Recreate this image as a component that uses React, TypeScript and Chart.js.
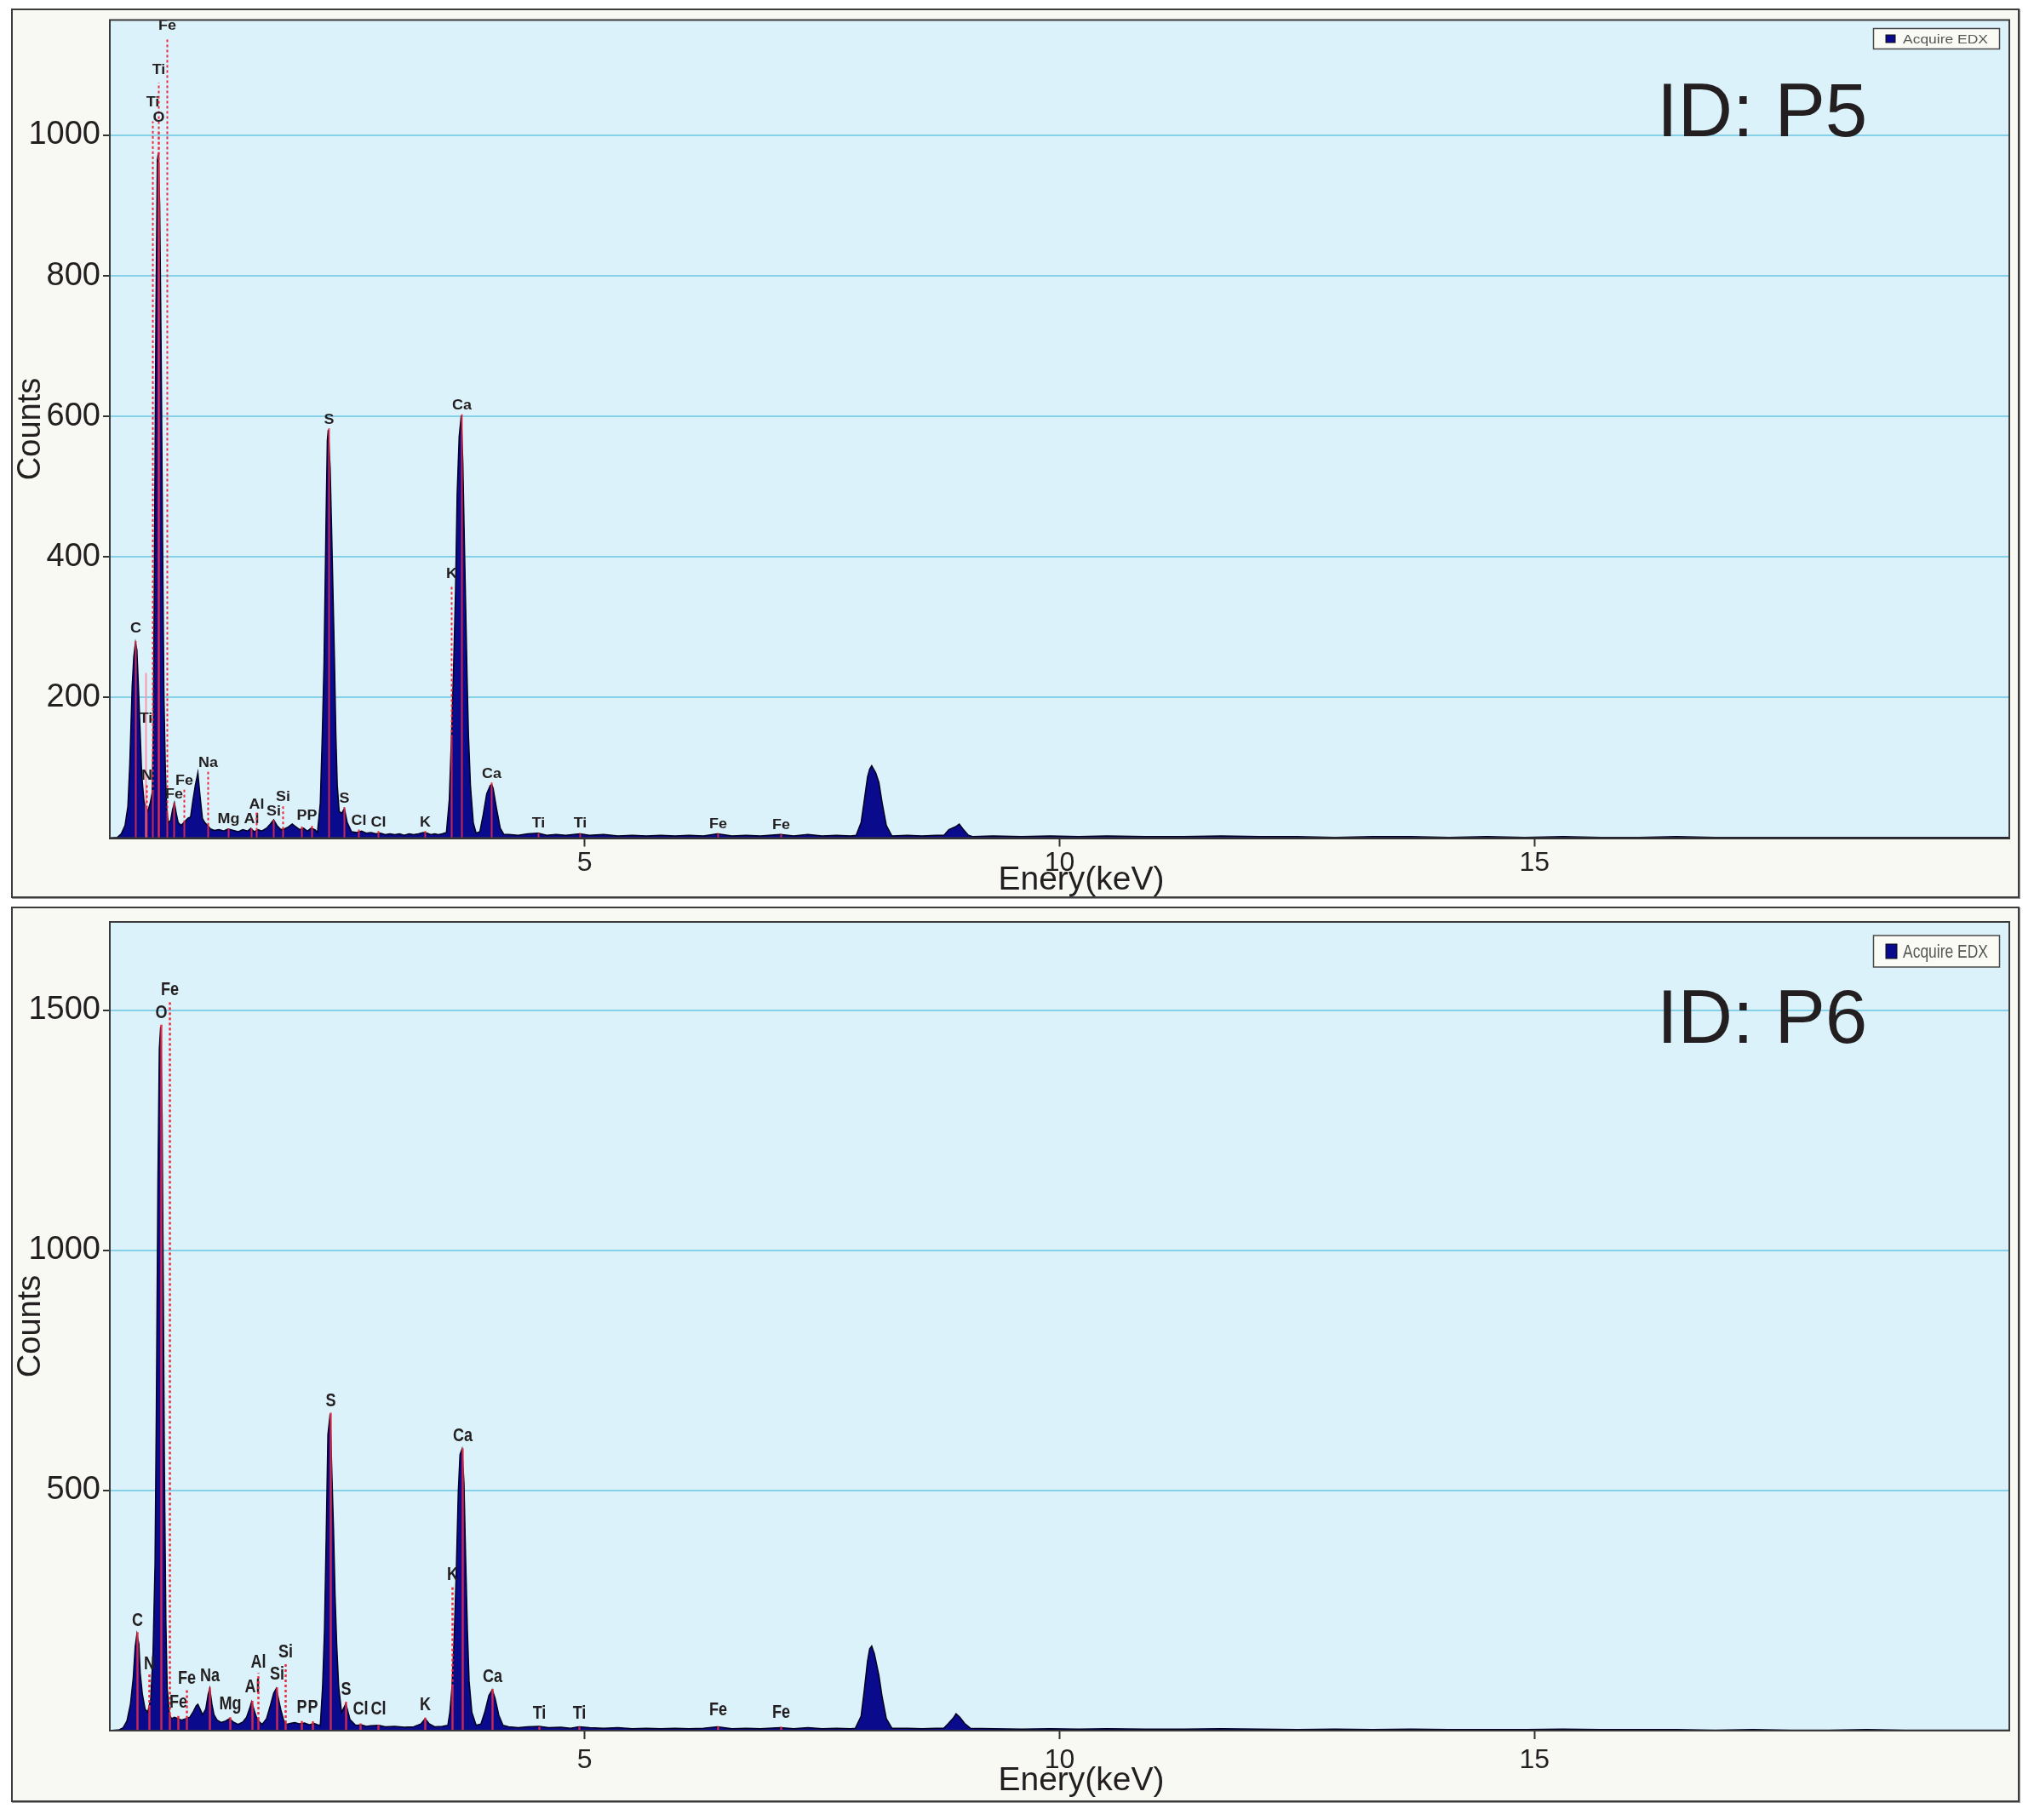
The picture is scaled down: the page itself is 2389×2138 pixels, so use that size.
import React, { useEffect, useRef } from 'react';
import { Chart, registerables } from 'chart.js';

Chart.register(...registerables);

// ---------------- DATA ----------------
const energyP5 = [
  0.0, 0.08, 0.12, 0.16, 0.19, 0.21, 0.235, 0.252, 0.27, 0.285, 0.3, 0.317, 0.336, 0.36, 0.38, 0.4, 0.425, 0.447, 0.458, 0.47,
  0.485, 0.5, 0.512, 0.525, 0.54, 0.555, 0.57, 0.585, 0.6, 0.615, 0.64, 0.66, 0.68, 0.7, 0.72, 0.75, 0.78, 0.82, 0.85, 0.875,
  0.9, 0.927, 0.95, 0.975, 1.0, 1.03, 1.06, 1.1, 1.15, 1.2, 1.245, 1.3, 1.35, 1.4, 1.45, 1.485, 1.52, 1.56, 1.6, 1.65,
  1.69, 1.725, 1.76, 1.8, 1.84, 1.88, 1.92, 1.96, 2.0, 2.04, 2.08, 2.12, 2.16, 2.186, 2.216, 2.237, 2.255, 2.267, 2.278, 2.29,
  2.3, 2.32, 2.335, 2.35, 2.365, 2.38, 2.395, 2.415, 2.44, 2.47, 2.5, 2.545, 2.6, 2.65, 2.7, 2.75, 2.8, 2.85, 2.9, 2.95,
  3.0, 3.05, 3.1, 3.15, 3.2, 3.25, 3.3, 3.34, 3.38, 3.42, 3.46, 3.5, 3.544, 3.574, 3.597, 3.618, 3.64, 3.657, 3.678, 3.7,
  3.717, 3.732, 3.747, 3.762, 3.776, 3.797, 3.827, 3.857, 3.896, 3.932, 3.968, 4.006, 4.021, 4.036, 4.072, 4.111, 4.15, 4.2, 4.3, 4.4,
  4.51, 4.6, 4.7, 4.8, 4.95, 5.05, 5.2, 5.35, 5.5, 5.65, 5.8, 5.95, 6.1, 6.25, 6.4, 6.55, 6.7, 6.85, 7.06, 7.2,
  7.35, 7.5, 7.65, 7.8, 7.858, 7.91, 7.944, 7.978, 8.0, 8.022, 8.064, 8.098, 8.132, 8.176, 8.235, 8.4, 8.55, 8.7, 8.783, 8.834,
  8.903, 8.944, 8.988, 9.04, 9.09, 9.3, 9.6, 9.9, 10.2, 10.5, 10.9, 11.3, 11.7, 12.1, 12.5, 12.9, 13.3, 13.7, 14.1, 14.5,
  14.9, 15.3, 15.7, 16.1, 16.5, 16.9, 17.3, 17.7, 18.1, 18.5, 18.9, 19.3, 19.7, 20.0,
];
const countsP5 = [
  0, 1, 6, 18, 45, 105, 215, 258, 278, 268, 220, 160, 90, 52, 44, 38, 50, 65, 160, 400,
  740, 965, 975, 900, 700, 430, 200, 95, 40, 22, 25, 40, 50, 35, 22, 18, 22, 28, 30, 54,
  75, 93, 60, 28, 22, 18, 13, 11, 12, 10, 13, 11, 9, 12, 10, 14, 9, 12, 10, 14,
  20, 26, 18, 12, 13, 16, 20, 16, 12, 14, 10, 14, 12, 8, 50, 147, 248, 361, 466, 566,
  581, 526, 440, 349, 256, 147, 75, 38, 35, 42, 22, 9, 8, 10, 7, 8, 6, 7, 5, 6,
  5, 6, 4, 6, 5, 6, 8, 7, 5, 6, 5, 6, 8, 54, 143, 236, 353, 490, 571, 601,
  534, 430, 329, 228, 147, 75, 22, 7, 9, 34, 63, 75, 76, 71, 42, 14, 5, 5, 4, 6,
  7, 4, 5, 4, 6, 4, 5, 3, 4, 3, 4, 3, 4, 3, 6, 3, 4, 3, 5, 3,
  5, 3, 4, 3, 4, 22, 54, 87, 98, 103, 93, 79, 50, 18, 3, 4, 3, 4, 4, 12,
  16, 20, 12, 4, 2, 3, 2, 3, 2, 3, 2, 2, 3, 2, 2, 1, 2, 2, 1, 2,
  1, 2, 1, 1, 2, 1, 1, 1, 1, 1, 1, 1, 1, 1,
];

const energyP6 = [
  0.0, 0.1, 0.14, 0.18, 0.217, 0.246, 0.267, 0.285, 0.306, 0.32, 0.342, 0.372, 0.4, 0.431, 0.455, 0.476, 0.49, 0.506, 0.521, 0.535,
  0.55, 0.562, 0.575, 0.59, 0.604, 0.628, 0.65, 0.68, 0.72, 0.754, 0.8, 0.843, 0.88, 0.91, 0.927, 0.95, 0.977, 1.01, 1.035, 1.052,
  1.075, 1.097, 1.13, 1.171, 1.22, 1.26, 1.3, 1.35, 1.4, 1.44, 1.47, 1.493, 1.52, 1.544, 1.575, 1.604, 1.65, 1.694, 1.725, 1.753,
  1.78, 1.8, 1.83, 1.858, 1.9, 1.947, 2.0, 2.05, 2.1, 2.15, 2.19, 2.216, 2.24, 2.26, 2.278, 2.296, 2.32, 2.341, 2.356, 2.371,
  2.389, 2.41, 2.44, 2.485, 2.529, 2.589, 2.65, 2.7, 2.75, 2.83, 2.9, 3.0, 3.1, 3.2, 3.275, 3.32, 3.365, 3.42, 3.5, 3.559,
  3.58, 3.603, 3.627, 3.648, 3.669, 3.687, 3.708, 3.729, 3.747, 3.765, 3.783, 3.812, 3.857, 3.908, 3.947, 3.991, 4.027, 4.057, 4.096, 4.14,
  4.2, 4.3, 4.4, 4.52, 4.62, 4.75, 4.85, 4.94, 5.05, 5.2, 5.35, 5.5, 5.65, 5.8, 5.95, 6.1, 6.25, 6.4, 6.55, 6.7,
  6.85, 7.06, 7.2, 7.35, 7.5, 7.65, 7.8, 7.85, 7.91, 7.944, 7.978, 8.0, 8.022, 8.05, 8.098, 8.132, 8.176, 8.235, 8.4, 8.55,
  8.7, 8.78, 8.83, 8.88, 8.91, 8.95, 9.0, 9.06, 9.3, 9.6, 9.9, 10.2, 10.5, 10.9, 11.3, 11.7, 12.1, 12.5, 12.9, 13.3,
  13.7, 14.1, 14.5, 14.9, 15.3, 15.7, 16.1, 16.5, 16.9, 17.3, 17.7, 18.1, 18.5, 18.9, 19.3, 19.7, 20.0,
];
const countsP6 = [
  0, 2, 6, 20, 55, 109, 175, 201, 180, 120, 77, 44, 39, 66, 164, 348, 673, 1139, 1420, 1466,
  1280, 949, 543, 228, 88, 33, 25, 28, 25, 22, 25, 28, 40, 52, 55, 45, 33, 45, 75, 88,
  55, 33, 22, 17, 20, 25, 18, 13, 18, 28, 45, 60, 42, 28, 18, 13, 25, 55, 78, 88,
  62, 44, 22, 13, 15, 17, 14, 16, 12, 15, 12, 11, 91, 209, 403, 616, 660, 516, 415, 286,
  179, 91, 38, 56, 23, 11, 12, 9, 10, 11, 8, 9, 7, 8, 14, 25, 14, 8, 9, 11,
  38, 91, 203, 333, 498, 575, 586, 516, 356, 209, 103, 38, 11, 14, 38, 73, 85, 67, 32, 11,
  8, 6, 8, 9, 6, 7, 5, 8, 6, 5, 6, 4, 5, 4, 5, 4, 5, 8, 4, 5,
  4, 6, 4, 6, 4, 5, 4, 5, 30, 85, 145, 170, 176, 160, 115, 70, 25, 5, 5, 4,
  5, 5, 15, 26, 35, 28, 15, 5, 4, 3, 4, 3, 4, 3, 3, 4, 3, 2, 3, 2,
  3, 2, 2, 2, 3, 2, 2, 2, 1, 2, 1, 1, 2, 1, 1, 1, 1,
];

const xTicks = [5, 10, 15];
const yTicksP5 = [200, 400, 600, 800, 1000];
const yTicksP6 = [500, 1000, 1500];

// [energy keV, element, line top (counts), label centre (counts), style]
type Marker = [number, string, number, number, string];
const markersP5: Marker[] = [
  [0.27, 'C', 280, 298, 'd'],
  [0.378, 'Ti', 235, 170, 's'],
  [0.385, 'N', 76, 88, 'd'],
  [0.447, 'Ti', 1020, 1047, 'd'],
  [0.509, 'Ti', 1075, 1092, 'd'],
  [0.515, 'O', 1008, 1025, 'd'],
  [0.604, 'Fe', 1137, 1155, 'd'],
  [0.673, 'Fe', 50, 62, 'd'],
  [0.777, 'Fe', 69, 81, 'd'],
  [1.03, 'Na', 95, 106, 'd'],
  [1.245, 'Mg', 14, 26, 'd'],
  [1.485, 'Al', 14, 26, 'd'],
  [1.545, 'Al', 37, 47, 'd'],
  [1.725, 'Si', 26, 37, 'd'],
  [1.817, 'Si', 48, 58, 'd'],
  [2.016, 'P', 18, 31, 'd'],
  [2.127, 'P', 18, 31, 'd'],
  [2.3, 'S', 583, 595, 'd'],
  [2.468, 'S', 44, 55, 'd'],
  [2.622, 'Cl', 12, 24, 'd'],
  [2.82, 'Cl', 10, 22, 'd'],
  [3.317, 'K', 10, 22, 'd'],
  [3.597, 'K', 361, 375, 'd'],
  [3.7, 'Ca', 603, 615, 'd'],
  [4.02, 'Ca', 79, 91, 'd'],
  [4.51, 'Ti', 7, 20, 'd'],
  [4.946, 'Ti', 7, 20, 'd'],
  [6.4, 'Fe', 7, 19, 'd'],
  [7.06, 'Fe', 6, 18, 'd'],
];
const markersP6: Marker[] = [
  [0.285, 'C', 205, 228, 'd'],
  [0.41, 'N', 118, 138, 'd'],
  [0.535, 'O', 1470, 1495, 'd'],
  [0.628, 'Fe', 1518, 1542, 'd'],
  [0.718, 'Fe', 35, 58, 'd'],
  [0.807, 'Fe', 85, 109, 'd'],
  [1.052, 'Na', 90, 114, 'd'],
  [1.26, 'Mg', 28, 55, 'd'],
  [1.493, 'Al', 62, 90, 'd'],
  [1.56, 'Al', 120, 142, 'd'],
  [1.753, 'Si', 90, 117, 'd'],
  [1.849, 'Si', 139, 164, 'd'],
  [2.02, 'P', 20, 48, 'd'],
  [2.135, 'P', 20, 48, 'd'],
  [2.32, 'S', 662, 686, 'd'],
  [2.485, 'S', 60, 85, 'd'],
  [2.634, 'Cl', 15, 44, 'd'],
  [2.827, 'Cl', 12, 44, 'd'],
  [3.32, 'K', 27, 53, 'd'],
  [3.603, 'K', 300, 324, 'd'],
  [3.708, 'Ca', 588, 613, 'd'],
  [4.027, 'Ca', 87, 111, 'd'],
  [4.52, 'Ti', 8, 36, 'd'],
  [4.94, 'Ti', 8, 36, 'd'],
  [6.4, 'Fe', 9, 42, 'd'],
  [7.06, 'Fe', 8, 38, 'd'],
];

const seriesName = 'Acquire EDX';
const xTitle = 'Enery(keV)';
const yTitle = 'Counts';

// ---------------- STYLE / GEOMETRY ----------------
const FONT = "'Liberation Sans', Arial, Helvetica, sans-serif";
const INK = '#231f20';

type Geo = {
  left: number; top: number; width: number; height: number;
  padTop: number; xAxisH: number; xTickPad: number; xTitleY: number;
  idBaseline: number; legendTop: number; legendH: number; legendFont: number;
  sqW: number; sqH: number; labelFont: number; labelScale: number; lineW: number;
};

const geoTop: Geo = {
  left: 13, top: 10, width: 2359, height: 1045,
  padTop: 11.5, xAxisH: 68.5, xTickPad: 4, xTitleY: 1022,
  idBaseline: 148, legendTop: 10, legendH: 24, legendFont: 15,
  sqW: 11, sqH: 9, labelFont: 16, labelScale: 1.12, lineW: 2,
};
const geoBottom: Geo = {
  left: 13, top: 1065, width: 2359, height: 1052,
  padTop: 16, xAxisH: 82, xTickPad: 9, xTitleY: 1025,
  idBaseline: 158, legendTop: 16, legendH: 37, legendFont: 22,
  sqW: 13, sqH: 17, labelFont: 22, labelScale: 0.82, lineW: 2.5,
};

function levelAt(E: number[], C: number[], e: number): number {
  for (let i = 0; i < E.length - 1; i++) {
    if (e >= E[i] && e <= E[i + 1]) {
      const t = (e - E[i]) / (E[i + 1] - E[i]);
      return C[i] + t * (C[i + 1] - C[i]);
    }
  }
  return 0;
}

function drawScaledText(ctx: CanvasRenderingContext2D, text: string, x: number, y: number, sx: number, align: 'left' | 'center') {
  ctx.save();
  ctx.translate(x, y);
  ctx.scale(sx, 1);
  ctx.textAlign = align;
  ctx.fillText(text, 0, 0);
  ctx.restore();
}

type PanelProps = {
  energies: number[]; counts: number[]; markers: Marker[];
  yMax: number; yTicks: number[]; idText: string; geo: Geo;
};

function Panel({ energies, counts, markers, yMax, yTicks, idText, geo }: PanelProps) {
  const ref = useRef<HTMLCanvasElement | null>(null);
  const cw = geo.width - 4;
  const ch = geo.height - 4;

  useEffect(() => {
    if (!ref.current) return;

    const decor = {
      id: 'edxDecor',
      beforeDraw(chart: any) {
        const { ctx, chartArea: a } = chart;
        ctx.save();
        ctx.fillStyle = '#dcf2fa';
        ctx.fillRect(a.left, a.top, a.right - a.left, a.bottom - a.top);
        ctx.restore();
      },
      afterDatasetsDraw(chart: any) {
        const { ctx, chartArea: a } = chart;
        const xs = chart.scales.x;
        const ys = chart.scales.y;
        const y0 = ys.getPixelForValue(0);
        ctx.save();
        ctx.beginPath();
        ctx.rect(a.left, a.top - 40, a.right - a.left, a.bottom - a.top + 40);
        ctx.clip();
        for (const [e, lab, top, labY, style] of markers) {
          const x = Math.round(xs.getPixelForValue(e)) + 0.5;
          const lvl = levelAt(energies, counts, e);
          ctx.lineWidth = geo.lineW;
          if (style === 's') {
            ctx.strokeStyle = 'rgba(255,140,165,0.9)';
            ctx.setLineDash([]);
            ctx.beginPath();
            ctx.moveTo(x, y0);
            ctx.lineTo(x, ys.getPixelForValue(top));
            ctx.stroke();
          } else {
            ctx.strokeStyle = 'rgba(235,45,75,0.85)';
            ctx.setLineDash([]);
            ctx.beginPath();
            ctx.moveTo(x, y0);
            ctx.lineTo(x, ys.getPixelForValue(Math.min(lvl, top)));
            ctx.stroke();
            if (top > lvl) {
              ctx.strokeStyle = '#f0283c';
              ctx.setLineDash([3, 3]);
              ctx.beginPath();
              ctx.moveTo(x, ys.getPixelForValue(lvl));
              ctx.lineTo(x, ys.getPixelForValue(top));
              ctx.stroke();
            }
          }
          ctx.setLineDash([]);
          ctx.fillStyle = INK;
          ctx.font = `bold ${geo.labelFont}px ${FONT}`;
          ctx.textBaseline = 'middle';
          drawScaledText(ctx, lab, x, ys.getPixelForValue(labY), geo.labelScale, 'center');
        }
        ctx.restore();
      },
      afterDraw(chart: any) {
        const { ctx, chartArea: a } = chart;
        ctx.save();
        // plot frame
        ctx.strokeStyle = '#3a3a3a';
        ctx.lineWidth = 2;
        ctx.strokeRect(a.left, a.top, a.right - a.left, a.bottom - a.top);

        // big ID text
        ctx.fillStyle = INK;
        ctx.font = `89px ${FONT}`;
        ctx.textBaseline = 'alphabetic';
        ctx.textAlign = 'left';
        ctx.fillText(idText, 1931, geo.idBaseline);

        // x axis title
        ctx.font = `39px ${FONT}`;
        ctx.textBaseline = 'middle';
        ctx.textAlign = 'center';
        ctx.fillText(xTitle, 1255, geo.xTitleY);

        // legend box
        const bw = 148;
        const bx = a.right - 11.5 - bw;
        const by = a.top + geo.legendTop;
        ctx.fillStyle = '#fbfbf6';
        ctx.fillRect(bx, by, bw, geo.legendH);
        ctx.strokeStyle = '#4a4a4a';
        ctx.lineWidth = 1.5;
        ctx.strokeRect(bx, by, bw, geo.legendH);
        const sqx = bx + 14.5;
        const sqy = by + (geo.legendH - geo.sqH) / 2;
        ctx.fillStyle = '#0a0a8c';
        ctx.fillRect(sqx, sqy, geo.sqW, geo.sqH);
        ctx.strokeStyle = '#111';
        ctx.lineWidth = 1;
        ctx.strokeRect(sqx, sqy, geo.sqW, geo.sqH);
        ctx.fillStyle = '#555';
        ctx.font = `${geo.legendFont}px ${FONT}`;
        ctx.textBaseline = 'middle';
        const w = ctx.measureText(seriesName).width;
        drawScaledText(ctx, seriesName, bx + 34.5, by + geo.legendH / 2 + 1, 100 / w, 'left');
        ctx.restore();
      },
    };

    const chart = new Chart(ref.current, {
      type: 'line',
      data: {
        datasets: [
          {
            label: seriesName,
            data: energies.map((e, i) => ({ x: e, y: counts[i] })),
            borderColor: '#000022',
            borderWidth: 1.5,
            backgroundColor: '#0a0a8c',
            fill: 'origin',
            pointRadius: 0,
            tension: 0,
          },
        ],
      },
      options: {
        responsive: false,
        animation: false,
        layout: { padding: { top: geo.padTop, right: 10, left: 0, bottom: 0 } },
        plugins: { legend: { display: false }, tooltip: { enabled: false } },
        scales: {
          x: {
            type: 'linear',
            min: 0,
            max: 20,
            afterFit: (s: any) => { s.height = geo.xAxisH; s.paddingLeft = 0; s.paddingRight = 0; },
            afterBuildTicks: (s: any) => { s.ticks = xTicks.map((v) => ({ value: v })); },
            grid: { drawOnChartArea: false, drawTicks: true, tickLength: 10, tickColor: '#333', tickWidth: 2 },
            border: { display: true, color: '#222', width: 2, z: 1 },
            ticks: {
              font: { family: FONT, size: 32, lineHeight: 1 },
              color: INK,
              padding: geo.xTickPad,
              maxRotation: 0,
              autoSkip: false,
              callback: (v: any) => String(v),
            },
            title: { display: false },
          },
          y: {
            type: 'linear',
            min: 0,
            max: yMax,
            afterFit: (s: any) => { s.width = 114; s.paddingTop = 0; s.paddingBottom = 0; },
            afterBuildTicks: (s: any) => { s.ticks = yTicks.map((v) => ({ value: v })); },
            grid: { color: '#86d0e8', lineWidth: 2, tickLength: 8, tickColor: '#333', tickWidth: 2 },
            border: { display: true, color: '#222', width: 2, z: 1 },
            ticks: {
              font: { family: FONT, size: 38, lineHeight: 1 },
              color: INK,
              padding: 3,
              autoSkip: false,
              callback: (v: any) => String(v),
            },
            title: {
              display: true,
              text: yTitle,
              color: INK,
              font: { family: FONT, size: 38, lineHeight: 1 },
              padding: { top: 3, bottom: 0 },
            },
          },
        },
      } as any,
      plugins: [decor],
    });
    return () => chart.destroy();
  }, []);

  return (
    <div
      style={{
        position: 'absolute',
        left: geo.left,
        top: geo.top,
        width: geo.width,
        height: geo.height,
        boxSizing: 'border-box',
        border: '2px solid #3d3d3d',
        boxShadow: '1px 1px 0 #9a9a9a',
        background: '#f9f9f4',
      }}
    >
      <canvas ref={ref} width={cw} height={ch} style={{ display: 'block', width: cw, height: ch }} />
    </div>
  );
}

export default function App() {
  return (
    <div style={{ position: 'absolute', left: 0, top: 0, width: 2389, height: 2138, background: '#ffffff', overflow: 'hidden' }}>
      <Panel energies={energyP5} counts={countsP5} markers={markersP5} yMax={1164} yTicks={yTicksP5} idText="ID: P5" geo={geoTop} />
      <Panel energies={energyP6} counts={countsP6} markers={markersP6} yMax={1684} yTicks={yTicksP6} idText="ID: P6" geo={geoBottom} />
    </div>
  );
}
